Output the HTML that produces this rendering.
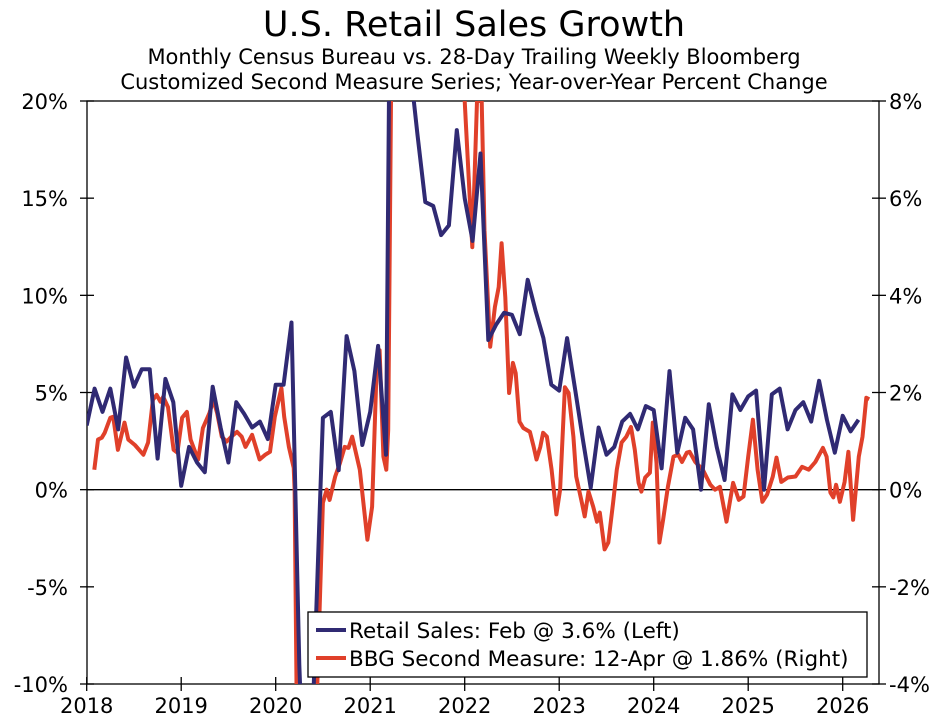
<!DOCTYPE html>
<html><head><meta charset="utf-8"><style>
html,body{margin:0;padding:0;background:#fff;overflow:hidden;}
svg{display:block;font-family:"DejaVu Sans","Liberation Sans",sans-serif;}
</style></head><body>
<svg id="chart" width="948" height="727" viewBox="0 0 948 727">
<defs><clipPath id="plotclip"><rect x="87" y="101" width="792" height="583"/></clipPath></defs>
<text x="474" y="36" text-anchor="middle" font-size="35" fill="#000">U.S. Retail Sales Growth</text>
<text x="474" y="64" text-anchor="middle" font-size="21" fill="#000">Monthly Census Bureau vs. 28-Day Trailing Weekly Bloomberg</text>
<text x="474" y="89" text-anchor="middle" font-size="21" fill="#000">Customized Second Measure Series; Year-over-Year Percent Change</text>
<g id="axes"></g>
<g id="series" clip-path="url(#plotclip)"></g>
<g id="legend"></g>
</svg>
<script>
const leftTicks = [20, 15, 10, 5, 0, -5, -10];
const leftTickLabels = ["20%", "15%", "10%", "5%", "0%", "-5%", "-10%"];
const rightTicks = [8, 6, 4, 2, 0, -2, -4];
const rightTickLabels = ["8%", "6%", "4%", "2%", "0%", "-2%", "-4%"];
const yearTicks = [2018, 2019, 2020, 2021, 2022, 2023, 2024, 2025, 2026];
const yearLabels = ["2018", "2019", "2020", "2021", "2022", "2023", "2024", "2025", "2026"];
// Monthly retail sales YoY %, Dec 2017 .. Feb 2026 (plotted at month end)
const retailStart = 2018.0;
const retailValues = [3.3,5.2,4.0,5.2,3.1,6.8,5.3,6.2,6.2,1.6,5.7,4.5,
0.2,2.2,1.4,0.9,5.3,3.2,1.4,4.5,3.9,3.2,3.5,2.6,
5.4,5.4,8.6,-9,-20,-8,3.7,4.0,1.0,7.9,6.1,2.3,
4.0,7.4,1.8,50,28,22,18.3,14.8,14.6,13.1,13.6,18.5,
15.0,12.8,17.3,7.7,8.5,9.1,9.0,8.0,10.8,9.2,7.8,5.4,
5.1,7.8,5.2,2.6,0.1,3.2,1.8,2.2,3.5,3.9,3.1,4.3,
4.1,1.1,6.1,1.9,3.7,3.1,0.0,4.4,2.2,0.5,4.9,4.1,
4.8,5.1,0.0,4.9,5.2,3.1,4.1,4.5,3.5,5.6,3.6,1.9,
3.8,3.0,3.6];
// BBG Second Measure weekly YoY % (right axis), sampled
const bbgDates = [2018.08,2018.12,2018.16,2018.19,2018.25,2018.28,2018.33,2018.40,2018.44,2018.51,2018.60,2018.65,2018.70,2018.74,2018.78,2018.81,2018.86,2018.92,2018.96,
2019.01,2019.06,2019.10,2019.14,2019.18,2019.23,2019.30,2019.34,2019.38,2019.43,2019.48,2019.53,2019.59,2019.64,2019.68,2019.75,2019.83,2019.89,2019.94,2019.99,
2020.06,2020.09,2020.14,2020.19,2020.20,2020.22,2020.26,2020.33,2020.44,2020.50,2020.54,2020.57,2020.63,2020.68,2020.73,2020.77,2020.81,2020.89,2020.97,
2021.02,2021.07,2021.10,2021.14,2021.17,2021.19,2021.22,2021.30,2021.50,2021.90,2022.00,2022.08,2022.13,2022.18,2022.21,2022.27,2022.32,2022.36,2022.39,2022.43,2022.47,2022.51,2022.54,2022.58,2022.62,2022.69,2022.73,2022.76,2022.80,2022.83,2022.87,2022.92,2022.97,
2023.01,2023.06,2023.10,2023.15,2023.18,2023.24,2023.27,2023.31,2023.36,2023.40,2023.43,2023.48,2023.52,2023.57,2023.61,2023.66,2023.71,2023.76,2023.80,2023.84,2023.87,2023.91,2023.96,2023.99,
2024.03,2024.06,2024.10,2024.15,2024.21,2024.26,2024.30,2024.35,2024.38,2024.44,2024.52,2024.60,2024.65,2024.70,2024.77,2024.84,2024.90,2024.95,
2025.00,2025.05,2025.10,2025.15,2025.20,2025.26,2025.30,2025.35,2025.42,2025.50,2025.57,2025.64,2025.71,2025.79,2025.83,2025.87,2025.90,2025.93,2025.97,
2026.02,2026.06,2026.11,2026.17,2026.21,2026.25,2026.28];
const bbgValues = [0.41,1.03,1.07,1.17,1.48,1.50,0.82,1.38,1.03,0.92,0.72,0.97,1.85,1.95,1.81,1.91,1.70,0.82,0.76,
1.48,1.60,1.03,0.82,0.62,1.27,1.58,1.85,1.58,1.09,0.99,1.09,1.19,1.09,0.88,1.13,0.62,0.72,0.78,1.50,
2.09,1.50,0.88,0.45,0.0,-4.0,-7.0,-5.0,-4.0,-0.27,0.0,-0.21,0.27,0.55,0.88,0.86,1.09,0.41,-1.03,
-0.35,2.61,2.87,0.68,0.41,1.23,8.0,12,11,10,8.0,4.99,8.0,8.0,5.34,2.94,3.76,4.17,5.07,3.96,1.99,2.61,2.40,1.40,1.27,1.19,0.88,0.62,0.88,1.17,1.09,0.41,-0.51,
0.0,2.11,1.99,1.09,0.27,-0.27,-0.55,-0.04,-0.35,-0.66,-0.47,-1.23,-1.09,-0.27,0.41,0.97,1.09,1.29,0.82,0.14,-0.04,0.25,0.35,1.38,
0.55,-1.09,-0.62,0.06,0.68,0.72,0.57,0.76,0.78,0.57,0.41,0.10,0.0,0.06,-0.66,0.14,-0.21,-0.14,
0.68,1.44,0.41,-0.25,-0.10,0.27,0.66,0.16,0.25,0.27,0.47,0.41,0.57,0.86,0.68,-0.06,-0.16,0.10,-0.25,
0.16,0.78,-0.62,0.68,1.09,1.89,1.86];

const NS = "http://www.w3.org/2000/svg";
const X0 = 86.7, PXY = 94.5, YT = 101, YB = 684, XL = 87, XR = 879;
function xScale(yr){ return X0 + (yr - 2018) * PXY; }
function yLeft(v){ return YB - (v + 10) / 30 * (YB - YT); }
function yRight(v){ return YB - (v + 4) / 12 * (YB - YT); }
function mk(tag, attrs, parent){ const e = document.createElementNS(NS, tag); for (const k in attrs) e.setAttribute(k, attrs[k]); parent.appendChild(e); return e; }

const axes = document.getElementById('axes');
const frame = mk('rect', {x:XL, y:YT, width:XR-XL, height:YB-YT, fill:'none', stroke:'#000', 'stroke-width':1.3}, axes);


const zl = mk('line', {x1:XL, x2:XR, y1:yLeft(0), y2:yLeft(0), stroke:'#000', 'stroke-width':1.3}, axes);


leftTicks.forEach((v, i) => {
  const y = yLeft(v);
  const t = mk('line', {x1:XL-7, x2:XL+7, y1:y, y2:y, stroke:'#000', 'stroke-width':1.3}, axes);
  
  
  const l = mk('text', {x:68, y:y+8, 'text-anchor':'end', 'font-size':21}, axes);
  l.textContent = leftTickLabels[i];
  
  
});
rightTicks.forEach((v, i) => {
  const y = yRight(v);
  const t = mk('line', {x1:XR-7, x2:XR+7, y1:y, y2:y, stroke:'#000', 'stroke-width':1.3}, axes);
  
  
  const l = mk('text', {x:889, y:y+8, 'text-anchor':'start', 'font-size':21}, axes);
  l.textContent = rightTickLabels[i];
  
  
});
yearTicks.forEach((yr, i) => {
  const x = xScale(yr);
  const t = mk('line', {x1:x, x2:x, y1:YB-7, y2:YB+7, stroke:'#000', 'stroke-width':1.3}, axes);
  
  
  const l = mk('text', {x:x, y:713, 'text-anchor':'middle', 'font-size':21}, axes);
  l.textContent = yearLabels[i];
  
  
});

const series = document.getElementById('series');
const bluePts = retailValues.map((v, i) => xScale(retailStart + i/12).toFixed(1) + ',' + yLeft(v).toFixed(1)).join(' ');
const redPts = bbgValues.map((v, i) => xScale(bbgDates[i]).toFixed(1) + ',' + yRight(v).toFixed(1)).join(' ');
const red = mk('polyline', {points:redPts, fill:'none', stroke:'#e0402a', 'stroke-width':4, 'stroke-linejoin':'round'}, series);


const blue = mk('polyline', {points:bluePts, fill:'none', stroke:'#302a73', 'stroke-width':4, 'stroke-linejoin':'round'}, series);



const lg = document.getElementById('legend');


const box = mk('rect', {x:308, y:612, width:559, height:65, fill:'#fff', stroke:'#000', 'stroke-width':1.3}, lg);


const l1 = mk('line', {x1:316, x2:346, y1:630, y2:630, stroke:'#302a73', 'stroke-width':4}, lg);


const t1 = mk('text', {x:349, y:638, 'font-size':21.5}, lg);
t1.textContent = 'Retail Sales: Feb @ 3.6% (Left)';


const l2 = mk('line', {x1:316, x2:346, y1:658, y2:658, stroke:'#e0402a', 'stroke-width':4}, lg);


const t2 = mk('text', {x:349, y:666, 'font-size':21.5}, lg);
t2.textContent = 'BBG Second Measure: 12-Apr @ 1.86% (Right)';


</script>
</body></html>
